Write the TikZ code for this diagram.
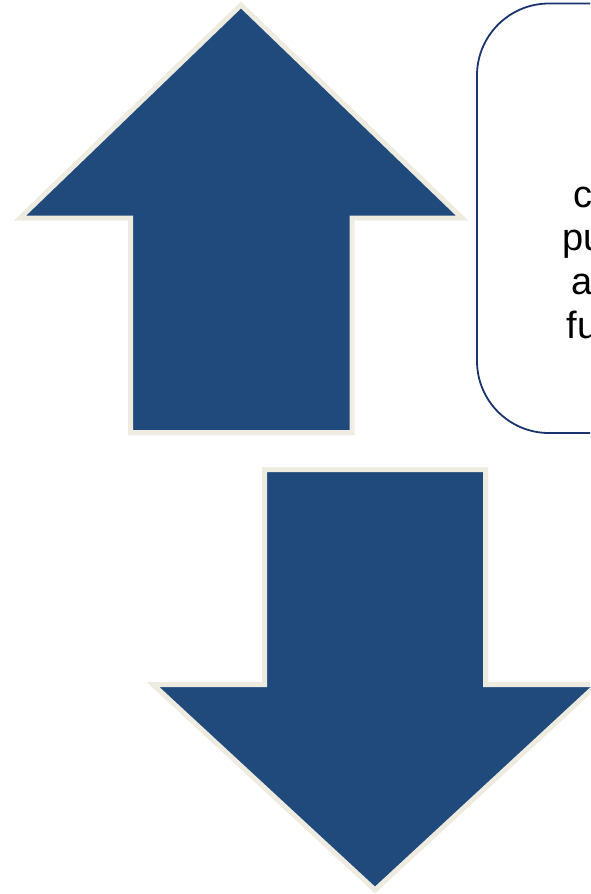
\documentclass[tikz,border=0pt]{standalone}
\usepackage{fontspec}
\setmainfont{Liberation Sans}
\definecolor{arrowfill}{RGB}{33,74,124}
\definecolor{arrowedge}{RGB}{238,235,224}
\definecolor{boxedge}{RGB}{28,52,110}
\begin{document}
\begin{tikzpicture}[x=1pt,y=-1pt,
  bigarrow/.style={fill=arrowfill,draw=arrowedge,line width=5pt,line join=miter},
  textbox/.style={draw=boxedge,line width=1.8pt,rounded corners=72pt},
  frag/.style={anchor=base west,inner sep=0pt,font=\fontsize{38}{43.7}\selectfont}]
\useasboundingbox (0,0) rectangle (590,894);
\clip (0,0) rectangle (590,894);
% up arrow
\draw[bigarrow] (241,5) -- (462,218) -- (352,218) -- (352,432.5) -- (130.5,432.5) -- (130.5,218) -- (20,218) -- cycle;
% down arrow
\draw[bigarrow] (264.5,469.5) -- (485.5,469.5) -- (485.5,684.5) -- (597,684.5) -- (375,890) -- (153,684.5) -- (264.5,684.5) -- cycle;
% text box (cut by the right edge)
\draw[textbox] (477,3.5) rectangle (760,433);
\node[frag] (l1) at (573.5,207) {c};
\node[frag] (l2) at (562.5,250) {pu};
\node[frag] (l3) at (571.5,294) {a};
\node[frag] (l4) at (566.5,338) {fu};
\end{tikzpicture}
\end{document}
